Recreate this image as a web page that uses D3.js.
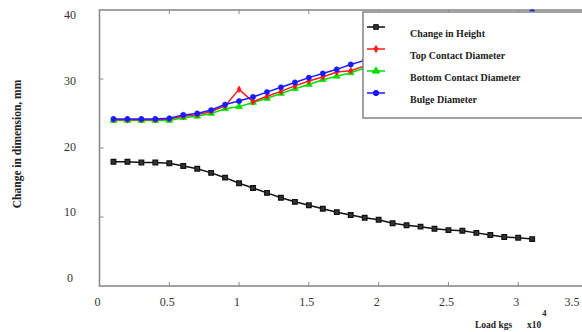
<!DOCTYPE html>
<html>
<head lang="en">
    <meta charset="UTF-8">
    <title></title>
    <script src="https://cdn.jsdelivr.net/npm/d3@7"></script>
    <style>
        body{margin:0;background:#fff;}
        text{font-family:"Liberation Serif","Times New Roman",serif;}
    </style>
</head>
<body>
<div id="tu1"></div>
</body>
</html>
<script>
    // load in units of 1e4 kg
    var loads=[0.1,0.2,0.3,0.4,0.5,0.6,0.7,0.8,0.9,1.0,1.1,1.2,1.3,1.4,1.5,1.6,
        1.7,1.8,1.9,2.0,2.1,2.2,2.3,2.4,2.5,2.6,2.7,2.8,2.9,3.0,3.1];
    var heightChange=[18.0,18.0,17.9,17.9,17.8,17.4,17.0,16.4,15.7,14.9,14.2,13.5,12.8,12.2,11.7,11.2,
        10.7,10.3,9.9,9.6,9.1,8.8,8.6,8.3,8.1,8.0,7.7,7.4,7.1,7.0,6.8];
    var topDiam=[24.1,24.1,24.1,24.1,24.2,24.6,24.8,25.3,26.1,28.5,26.7,27.5,28.2,29.0,29.7,30.3,
        31.0,31.2,31.9,32.6,33.2,33.7,34.2,34.7,35.2,35.7,36.2,36.7,37.3,37.9,38.5];
    var bottomDiam=[24.0,24.0,24.0,24.0,24.0,24.4,24.6,25.0,25.7,26.0,26.6,27.2,27.9,28.6,29.2,29.9,
        30.4,30.9,31.6,32.2,32.8,33.3,33.8,34.3,34.8,35.3,35.8,36.3,36.9,37.5,38.1];
    var bulgeDiam=[24.2,24.2,24.2,24.2,24.3,24.8,25.0,25.5,26.3,26.8,27.4,28.1,28.8,29.5,30.2,30.8,
        31.4,32.1,32.7,33.3,33.9,34.4,34.9,35.4,35.9,36.4,36.9,37.5,38.1,38.8,39.7];
    var xTicks=[0,0.5,1,1.5,2,2.5,3,3.5];
    var yTicks=[0,10,20,30,40];
    var seriesNames=['Change in Height','Top Contact Diameter','Bottom Contact Diameter','Bulge Diameter'];

    function drawChart(divname){
        var svgwidth=582,svgheight=332;
        var _svg=d3.select('#'+divname).append('svg')
                .attr('width',svgwidth).attr('height',svgheight);
        var x=d3.scaleLinear().domain([0,3.5]).range([99.5,588]);
        var y=d3.scaleLinear().domain([0,40]).range([286,10]);
        // the scanned figure has its y labels a little off the ticks
        var yLab=d3.scaleLinear().domain([0,40]).range([278,15]);
        var axisColor='#8a8a8a';

        // frame
        _svg.append('rect')
                .attr('x',x(0)).attr('y',y(40))
                .attr('width',x(3.5)-x(0)).attr('height',y(0)-y(40))
                .attr('fill','none').attr('stroke',axisColor).attr('stroke-width',1.6);

        // inward ticks
        var xt=xTicks.slice(1,-1), yt=yTicks.slice(1,-1);
        _svg.selectAll('.xtb').data(xt).enter().append('line')
                .attr('x1',function(d){return x(d)}).attr('x2',function(d){return x(d)})
                .attr('y1',y(0)).attr('y2',y(0)-4).attr('stroke',axisColor).attr('stroke-width',1);
        _svg.selectAll('.xtt').data(xt).enter().append('line')
                .attr('x1',function(d){return x(d)}).attr('x2',function(d){return x(d)})
                .attr('y1',y(40)).attr('y2',y(40)+4).attr('stroke',axisColor).attr('stroke-width',1);
        _svg.selectAll('.ytl').data(yt).enter().append('line')
                .attr('y1',function(d){return y(d)}).attr('y2',function(d){return y(d)})
                .attr('x1',x(0)).attr('x2',x(0)+4).attr('stroke',axisColor).attr('stroke-width',1);

        // tick labels
        _svg.selectAll('.xl').data(xTicks).enter().append('text')
                .attr('x',function(d){return Math.min(x(d)-2,572)}).attr('y',306)
                .attr('text-anchor','middle').attr('font-size',12).attr('fill','#333')
                .text(function(d){return d});
        _svg.selectAll('.yl').data(yTicks).enter().append('text')
                .attr('x',70).attr('y',function(d){return yLab(d)})
                .attr('dy','0.35em')
                .attr('text-anchor','middle').attr('font-size',12).attr('fill','#333')
                .text(function(d){return d});

        // axis titles
        _svg.append('text')
                .attr('transform','translate(21,144) rotate(-90)')
                .attr('text-anchor','middle').attr('font-size',11.5).attr('font-weight','bold')
                .attr('fill','#222').text('Change in dimension, mm');
        _svg.append('text')
                .attr('x',475).attr('y',328).attr('font-size',9.5).attr('font-weight','bold')
                .attr('fill','#222').text('Load kgs');
        var xt10=_svg.append('text')
                .attr('x',527).attr('y',328).attr('font-size',9.5).attr('font-weight','bold')
                .attr('fill','#222');
        xt10.append('tspan').text('x10');
        xt10.append('tspan').attr('dy',-12).attr('dx',1).attr('font-size',8.5).text('4');

        var line=d3.line()
                .x(function(d){return x(d[0])})
                .y(function(d){return y(d[1])});
        var series=[
            {name:seriesNames[2],vals:bottomDiam,color:'#00e000',shape:'tri'},
            {name:seriesNames[1],vals:topDiam,color:'#ff1a1a',shape:'dia'},
            {name:seriesNames[3],vals:bulgeDiam,color:'#1a1aff',shape:'circ'},
            {name:seriesNames[0],vals:heightChange,color:'#111',shape:'sq'}
        ];
        var symbols={
            tri:d3.symbol().type(d3.symbolTriangle).size(22),
            dia:d3.symbol().type(d3.symbolDiamond).size(14),
            circ:d3.symbol().type(d3.symbolCircle).size(22),
            sq:d3.symbol().type(d3.symbolSquare).size(22)
        };

        series.forEach(function(s){
            var pts=loads.map(function(l,i){return [l,s.vals[i]]});
            _svg.append('path').datum(pts)
                    .attr('d',line).attr('fill','none')
                    .attr('stroke',s.color).attr('stroke-width',1.5);
            _svg.selectAll(null).data(pts).enter().append('path')
                    .attr('transform',function(d){return 'translate('+x(d[0])+','+y(d[1])+')'})
                    .attr('d',symbols[s.shape])
                    .attr('fill',s.shape=='sq'?'#333':s.color)
                    .attr('stroke',s.color).attr('stroke-width',s.shape=='sq'?1.2:0.5);
        });

        // legend
        var lg=_svg.append('g');
        lg.append('rect').attr('x',363).attr('y',12).attr('width',240).attr('height',106)
                .attr('fill','#fff').attr('stroke',axisColor).attr('stroke-width',1.6);
        var legendItems=[series[3],series[1],series[0],series[2]];
        legendItems.forEach(function(s,i){
            var cy=27+i*22;
            lg.append('line').attr('x1',367).attr('x2',385).attr('y1',cy).attr('y2',cy)
                    .attr('stroke',s.color).attr('stroke-width',1.5);
            lg.append('path').attr('transform','translate(376,'+cy+')')
                    .attr('d',symbols[s.shape])
                    .attr('fill',s.shape=='sq'?'#333':s.color).attr('stroke',s.color);
            lg.append('text').attr('x',410).attr('y',cy+10)
                    .attr('font-size',10).attr('font-weight','bold').attr('fill','#222')
                    .text(s.name);
        });
    }
    drawChart('tu1');
</script>
